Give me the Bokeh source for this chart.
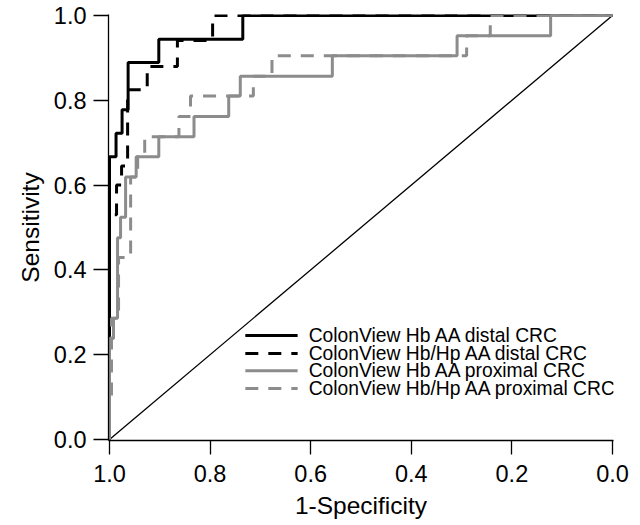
from bokeh.plotting import figure
from bokeh.models import Range1d, FixedTicker
from bokeh.core.properties import value
from bokeh.embed import file_html
from bokeh.resources import INLINE

# ---- data (ROC points: specificity, sensitivity) ----
hb_distal_spec = [1.0, 1.0, 0.987, 0.987, 0.975, 0.975, 0.963, 0.963, 0.902, 0.902, 0.735, 0.735, 0.0]
hb_distal_sens = [0.0, 0.667, 0.667, 0.722, 0.722, 0.778, 0.778, 0.889, 0.889, 0.944, 0.944, 1.0, 1.0]

hbhp_distal_spec = [1.0, 1.0, 0.986, 0.986, 0.976, 0.976, 0.964, 0.964, 0.925, 0.925, 0.865, 0.865, 0.795, 0.795, 0.0]
hbhp_distal_sens = [0.0, 0.53, 0.53, 0.60, 0.60, 0.645, 0.645, 0.825, 0.825, 0.88, 0.88, 0.941, 0.941, 1.0, 1.0]

hb_prox_spec = [1.0, 1.0, 0.992, 0.992, 0.984, 0.984, 0.978, 0.978, 0.968, 0.968, 0.947, 0.947,
                0.902, 0.902, 0.832, 0.832, 0.763, 0.763, 0.740, 0.740, 0.557, 0.557, 0.309, 0.309,
                0.123, 0.123, 0.0]
hb_prox_sens = [0.0, 0.238, 0.238, 0.286, 0.286, 0.476, 0.476, 0.524, 0.524, 0.619, 0.619, 0.667,
                0.667, 0.714, 0.714, 0.762, 0.762, 0.810, 0.810, 0.857, 0.857, 0.905, 0.905, 0.952,
                0.952, 1.0, 1.0]

hbhp_prox_spec = [1.0, 1.0, 0.996, 0.996, 0.982, 0.982, 0.958, 0.958, 0.944, 0.944, 0.930, 0.930,
                  0.862, 0.862, 0.839, 0.839, 0.714, 0.714, 0.677, 0.677, 0.290, 0.290, 0.243, 0.243, 0.0]
hbhp_prox_sens = [0.0, 0.095, 0.095, 0.286, 0.286, 0.429, 0.429, 0.619, 0.619, 0.667, 0.667, 0.714,
                  0.714, 0.762, 0.762, 0.810, 0.810, 0.857, 0.857, 0.905, 0.905, 0.952, 0.952, 1.0, 1.0]

series_labels = ["ColonView Hb AA distal CRC", "ColonView Hb/Hp AA distal CRC",
                 "ColonView Hb AA proximal CRC", "ColonView Hb/Hp AA proximal CRC"]

tick_values = [0.0, 0.2, 0.4, 0.6, 0.8, 1.0]
tick_labels = ["0.0", "0.2", "0.4", "0.6", "0.8", "1.0"]

# ---- styling ----
FONT = "Liberation Sans"
BLACK = "#000000"
GREY = "#8c8c8c"
DASH = "13 10"
styles = [(BLACK, "solid"), (BLACK, DASH), (GREY, "solid"), (GREY, DASH)]
series = [(hb_distal_spec, hb_distal_sens), (hbhp_distal_spec, hbhp_distal_sens),
          (hb_prox_spec, hb_prox_sens), (hbhp_prox_spec, hbhp_prox_sens)]

px_pad = 0.002
py_pad = 0.00236
p = figure(width=640, height=525, output_backend="svg", toolbar_location=None,
           x_range=Range1d(1.0 + px_pad, 0.0 - px_pad), y_range=Range1d(0.0 - py_pad, 1.0 + py_pad),
           min_border_left=108, min_border_right=27, min_border_top=14, min_border_bottom=85)
p.outline_line_color = None
p.grid.visible = False
p.background_fill_color = "white"
p.border_fill_color = "white"

for ax, label in ((p.xaxis, "1-Specificity"), (p.yaxis, "Sensitivity")):
    ax.ticker = FixedTicker(ticks=tick_values)
    ax.major_label_overrides = dict(zip(tick_values, tick_labels))
    ax.axis_label = label
    ax.axis_label_text_font = FONT
    ax.axis_label_text_font_size = "24.5px"
    ax.axis_label_text_font_style = "normal"
    ax.axis_label_text_color = "#000000"
    ax.major_label_text_font = FONT
    ax.major_label_text_font_size = "23.5px"
    ax.major_label_text_color = "#000000"
    ax.axis_line_color = "#000000"
    ax.axis_line_width = 1.3
    ax.major_tick_line_color = "#000000"
    ax.major_tick_line_width = 1.3
    ax.major_tick_in = 0
    ax.minor_tick_line_color = None
p.xaxis.major_tick_out = 14
p.yaxis.major_tick_out = 15
p.xaxis.major_label_standoff = 10
p.yaxis.major_label_standoff = 7
p.xaxis.axis_label_standoff = 7
p.yaxis.axis_label_standoff = 7

# diagonal reference
p.line([1.0, 0.0], [0.0, 1.0], line_color="#000000", line_width=1.3)

for (xs, ys), (col, dash) in zip(series, styles):
    p.line(xs, ys, line_color=col, line_width=3, line_dash=dash)

# legend (drawn manually to match tight row spacing)
leg_rows = [0.245, 0.203, 0.162, 0.120]
leg_x0, leg_x1, leg_tx = 0.730, 0.626, 0.604
for lbl, (col, dash), yy in zip(series_labels, styles, leg_rows):
    p.line([leg_x0, leg_x1], [yy, yy], line_color=col, line_width=3, line_dash=dash)
p.text(x=[leg_tx] * 4, y=leg_rows, text=series_labels, text_font=value(FONT),
       text_font_size="19.3px", text_baseline="middle", text_align="left", text_color="#000000")

open("out.html", "w").write(file_html(p, INLINE))
